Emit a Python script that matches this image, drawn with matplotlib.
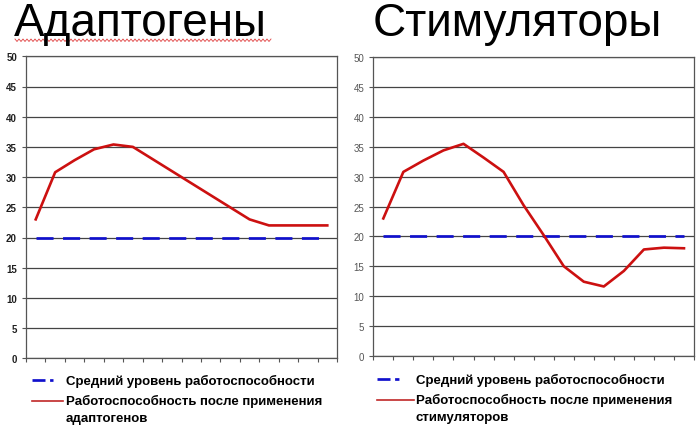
import numpy as np
import matplotlib
matplotlib.use("Agg")
import matplotlib.pyplot as plt
from matplotlib.lines import Line2D

plt.rcParams['font.family'] = ['Liberation Sans', 'DejaVu Sans']

# data, 16 time steps
steps = list(range(16))
avg_level = [20, 20, 20, 20, 20, 20, 20, 20, 20, 20, 20, 20, 20, 20, 20, 20]
adapt = [23, 30.8, 32.8, 34.6, 35.4, 35, 33, 31, 29, 27, 25, 23, 22, 22, 22, 22]
stim = [23, 30.8, 32.7, 34.4, 35.5, 33.2, 30.8, 25.2, 20.2, 15, 12.4, 11.6, 14.2, 17.8, 18.1, 18]
yticks = [0, 5, 10, 15, 20, 25, 30, 35, 40, 45, 50]

titles = ["Адаптогены", "Стимуляторы"]
avg_label = "Средний уровень работоспособности"
after_label = "Работоспособность после применения"
after_tail = ["адаптогенов", "стимуляторов"]

W, H = 700, 431
RED = '#cc1010'
BLUE = '#1010cc'

fig = plt.figure(figsize=(W / 100, H / 100), dpi=100)


def px(x, y):
    # pixel position (from top left) -> figure fraction
    return x / W, 1 - y / H


def panel(rect, series, bold):
    ax = fig.add_axes(rect)
    ax.plot(steps, avg_level, color=BLUE, lw=1.95, linestyle=(0, (6.3, 3.5)))
    ax.plot(steps, series, color=RED, lw=1.9, solid_joinstyle='round')
    ax.set_xlim(-0.5, 15.5)
    ax.set_ylim(0, 50)
    ax.set_yticks(yticks)
    ax.set_xticks(np.arange(-0.5, 16, 1))
    ax.set_xticklabels([])
    ax.grid(axis='y', color='#444444', lw=0.9)
    ax.set_axisbelow(True)
    for s in ax.spines.values():
        s.set_color('#555555')
        s.set_linewidth(0.9)
    ax.tick_params(axis='both', direction='out', length=3, width=0.8, color='#555555')
    ax.tick_params(axis='y', pad=3.5, labelsize=7,
                   labelcolor='#202020' if bold else '#555555')
    if bold:
        for t in ax.get_yticklabels():
            t.set_fontweight('bold')
    return ax


panel([26 / W, 1 - 359.3 / H, 311 / W, 302 / H], adapt, True)
panel([373.3 / W, 1 - 356.7 / H, 320.7 / W, 298.4 / H], stim, False)

# titles
fig.text(*px(14, 36.5), titles[0], fontsize=33, va='baseline', ha='left')
fig.text(*px(373, 36.5), titles[1], fontsize=33, va='baseline', ha='left')

# spell-check squiggle under the first title
sq_x = np.arange(15, 272, 2)
sq_y = np.where(np.arange(len(sq_x)) % 2 == 0, 40, 42.5)
fig.add_artist(Line2D(sq_x / W, 1 - sq_y / H, color='#e04040', lw=0.6))

# legends drawn by hand so the handle sits on the first line of the label
legend_cfg = [
    # handle start, blue end, red end, text x, row ys
    (32, 53, 63, 65.5, (381, 401.5, 419), after_tail[0]),
    (377, 399, 414, 416, (380, 400.5, 418), after_tail[1]),
]
for x0, xb, xr, xt, ys, tail in legend_cfg:
    xa, ya = px(x0, ys[0])
    xe, _ = px(xb, ys[0])
    fig.add_artist(Line2D([xa, xe], [ya, ya], color=BLUE, lw=1.95,
                          linestyle=(0, (4.8, 1.7, 1.6, 20))))
    xa, ya = px(x0, ys[1])
    xe, _ = px(xr, ys[1])
    fig.add_artist(Line2D([xa, xe], [ya, ya], color='#c02828', lw=1.2))
    fig.text(*px(xt, ys[0]), avg_label, fontsize=9.5, fontweight='bold', va='center')
    fig.text(*px(xt, ys[1]), after_label, fontsize=9.5, fontweight='bold', va='center')
    fig.text(*px(xt, ys[2]), tail, fontsize=9.5, fontweight='bold', va='center')

fig.savefig("out.png", dpi=100)
